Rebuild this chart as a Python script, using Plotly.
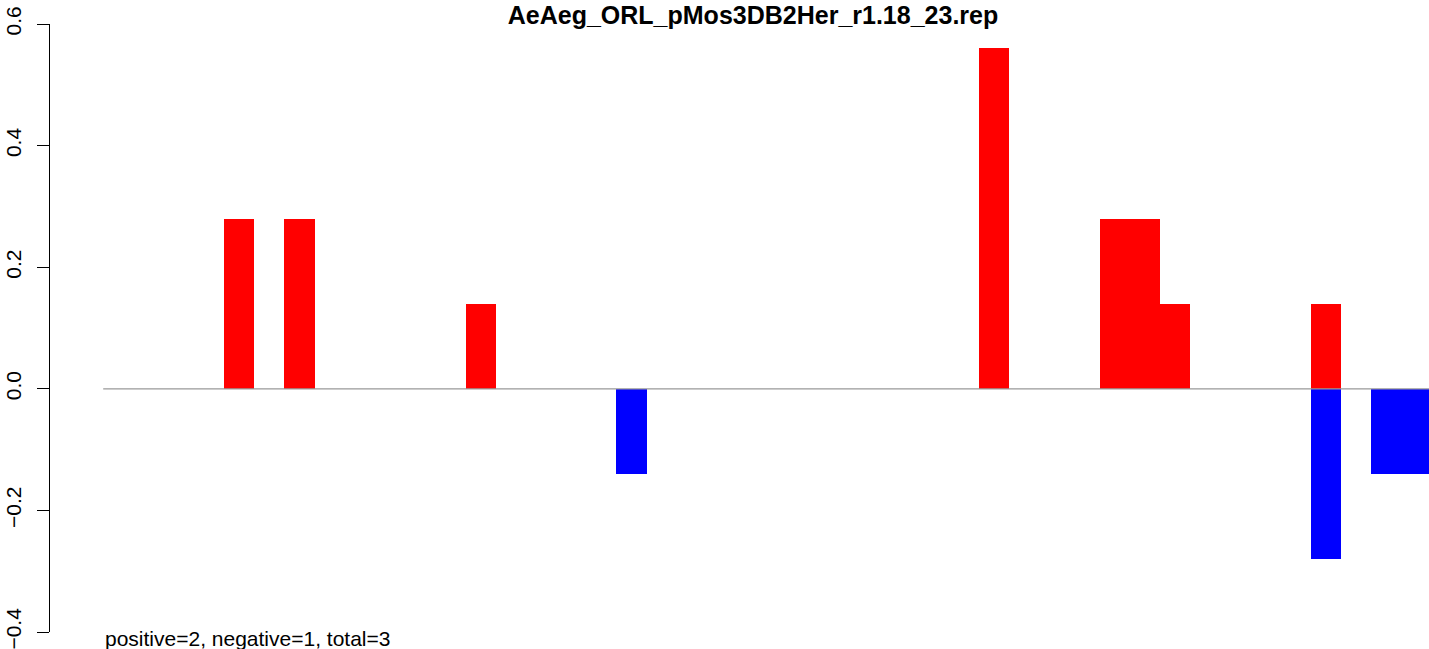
import plotly.graph_objects as go

# Data: 44 window slots; positive (red) and negative (blue) values per slot
slots = list(range(44))
positive = [0.0] * 44
negative = [0.0] * 44
pos_entries = {4: 0.28, 6: 0.28, 12: 0.14, 29: 0.56, 33: 0.28, 34: 0.28, 35: 0.14, 40: 0.14}
neg_entries = {17: -0.14, 40: -0.28, 42: -0.14, 43: -0.14}
for k, v in pos_entries.items():
    positive[k] = v
for k, v in neg_entries.items():
    negative[k] = v

y_tickvals = [-0.4, -0.2, 0.0, 0.2, 0.4, 0.6]
y_ticktext = ["\u22120.4", "\u22120.2", "0.0", "0.2", "0.4", "0.6"]
title_text = "AeAeg_ORL_pMos3DB2Her_r1.18_23.rep"
summary_text = "positive=2, negative=1, total=3"

fig = go.Figure()
fig.add_trace(go.Bar(x=slots, y=positive, width=1, marker=dict(color="#FF0000", line=dict(width=0)),
                     showlegend=False))
fig.add_trace(go.Bar(x=slots, y=negative, width=1, marker=dict(color="#0000FF", line=dict(width=0)),
                     showlegend=False))

fig.add_shape(type="line", xref="x", yref="y", x0=-0.5, x1=43.41, y0=0, y1=0,
              line=dict(color="#999999", width=1.3), layer="above")

fig.add_annotation(text=summary_text, xref="x", yref="paper", x=-0.5, y=-0.0099,
                   xanchor="left", yanchor="middle", showarrow=False,
                   font=dict(family="Liberation Sans, Arial", size=21, color="black"))

fig.update_layout(
    width=1429, height=649,
    margin=dict(l=50, r=0, t=24, b=17, autoexpand=False),
    paper_bgcolor="white", plot_bgcolor="white",
    barmode="overlay", bargap=0,
    title=dict(text="<b>" + title_text + "</b>", xref="container", yref="container",
               x=753 / 1429, y=1 - 15 / 649, xanchor="center", yanchor="middle",
               font=dict(family="Liberation Sans, Arial", size=25, color="black")),
    xaxis=dict(range=[-2.262, 43.41], visible=False, showgrid=False, zeroline=False),
    yaxis=dict(range=[-0.4, 0.6], tickvals=y_tickvals, ticktext=y_ticktext, automargin=False,
               tickangle=-90, ticks="outside", ticklen=12, tickcolor="black", tickwidth=1,
               ticklabelstandoff=8, ticklabeloverflow="allow",
               showline=True, linecolor="black", linewidth=1, showgrid=False, zeroline=False,
               tickfont=dict(family="Liberation Sans, Arial", size=21, color="black")),
    font=dict(family="Liberation Sans, Arial", color="black"),
)

fig.write_html("out.html", config={"displayModeBar": False},
               post_script="document.body.style.margin='0';document.body.style.overflow='hidden';")
